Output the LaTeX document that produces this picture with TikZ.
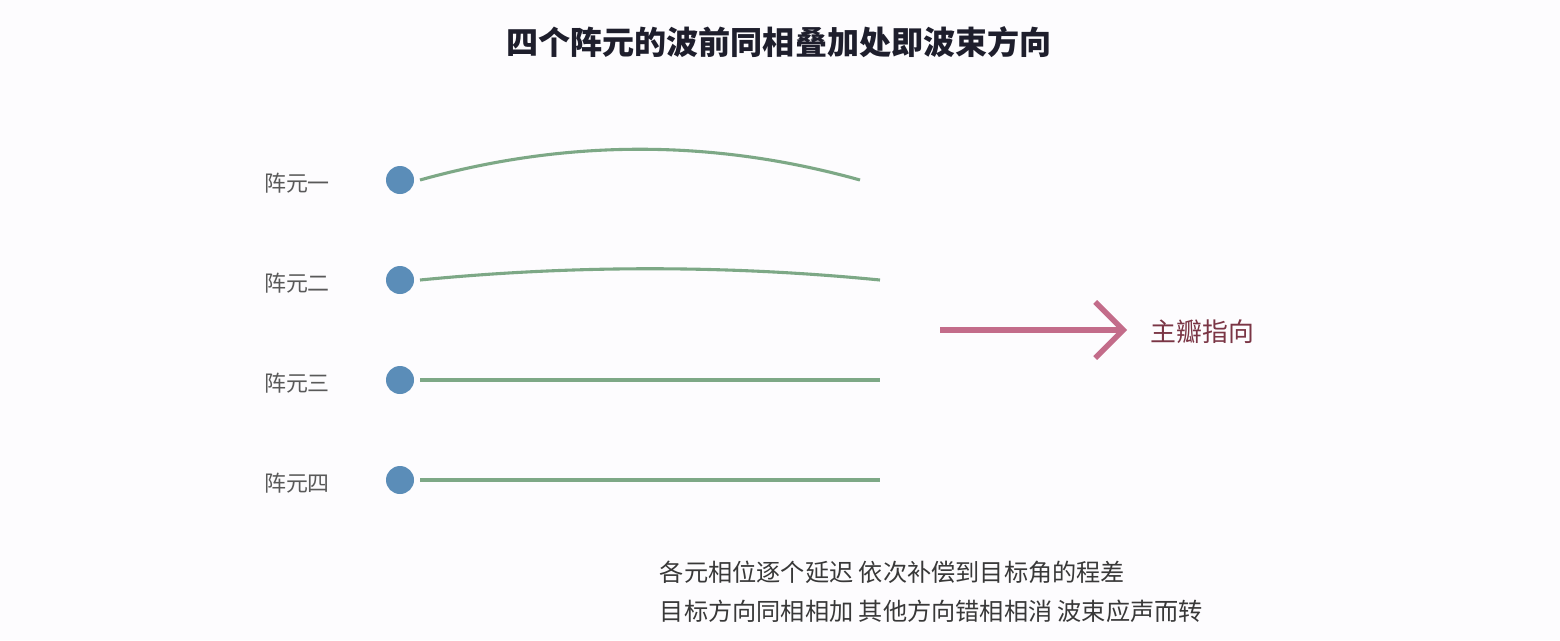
\documentclass[tikz,border=0pt]{standalone}
\usepackage{fontspec}
\setmainfont{Noto Sans CJK SC}
\newfontfamily\cjk{Noto Sans CJK SC}
\usetikzlibrary{arrows.meta}
\definecolor{bgcol}{HTML}{FDFCFE}
\definecolor{dotblue}{HTML}{5B8DB8}
\definecolor{wavegreen}{HTML}{7DA886}
\definecolor{beamrose}{HTML}{C36C8A}
\definecolor{beamtext}{HTML}{7A3545}
\definecolor{titlecol}{HTML}{1E1E2C}
\tikzset{
  element/.style={circle,fill=dotblue,inner sep=0pt,minimum size=28*0.025cm},
  elabel/.style={font=\cjk\fontsize{15.6}{18}\selectfont,text=black!65},
  front/.style={draw=wavegreen,line width=2.2pt},
  note/.style={font=\cjk\fontsize{17.2}{20}\selectfont,text=black!78,anchor=west}
}

\begin{document}
\begin{tikzpicture}[x=0.025cm,y=-0.025cm]
  % — Canvas
  \fill[bgcol] (0,0) rectangle (1560,640);
  \useasboundingbox (0,0) rectangle (1560,640);

  % — Title
  \node[font=\cjk\bfseries\fontsize{22.8}{27}\selectfont,text=titlecol] (title) at (779,42) {四个阵元的波前同相叠加处即波束方向};

  % — Array elements and their labels
  \foreach \k/\name/\y in {1/一/180,2/二/280,3/三/380,4/四/480}{
    \node[element] (e\k) at (400,\y) {};
    \node[elabel] (lab\k) at (297,\y+3) {阵元\name};
    \coordinate (s\k) at (420,\y);
  }
  \coordinate (t1) at (860,180);
  \coordinate (t2) at (880,280);
  \coordinate (t3) at (880,380);
  \coordinate (t4) at (880,480);

  % — Wavefronts (curved on top, flat below)
  \draw[front] (s1) .. controls (567,139) and (713,139) .. (t1);
  \draw[front] (s2) .. controls (573,265) and (727,265) .. (t2);
  \draw[front] (s3) -- (t3);
  \draw[front] (s4) -- (t4);

  % — Main lobe direction
  \coordinate (a0) at (940,330);
  \coordinate (a1) at (1127,330);
  \draw[draw=beamrose,line width=3.8pt,-{Straight Barb[length=0.7cm,width=1.4cm,line width=3.8pt]}] (a0) -- (a1);
  \node[font=\cjk\fontsize{18.4}{21}\selectfont,text=beamtext,anchor=west] (beam) at (1146,332) {主瓣指向};

  % — Notes
  \node[note] (n1) at (655,572) {各元相位逐个延迟 依次补偿到目标角的程差};
  \node[note] (n2) at (655,611) {目标方向同相相加 其他方向错相相消 波束应声而转};
\end{tikzpicture}
\end{document}
